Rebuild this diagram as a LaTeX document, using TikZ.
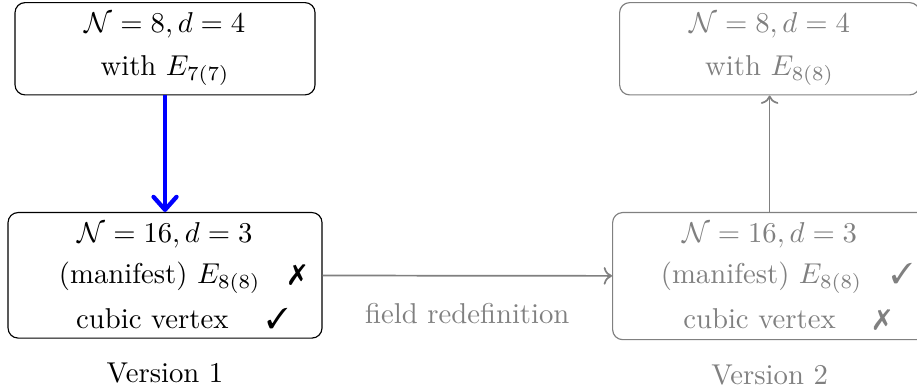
\documentclass[tikz,border=0pt]{standalone}
\usepackage{pifont}
\usetikzlibrary{positioning, arrows.meta}

\newcommand{\cmark}{\ding{51}}
\newcommand{\xmark}{\ding{55}}

\begin{document}
\begin{tikzpicture}[
    theory/.style={draw, rounded corners=3.5pt, align=center,
        minimum width=3.845cm},
    faded/.style={draw=gray, text=gray},
]
    \useasboundingbox (0,0) rectangle (11.23,-4.739);

    \node[theory,
        minimum width=3.674cm,
        anchor=north
    ] (v1top) at (2.021,-0.025)
        {$\mathcal{N}=8, d=4$\\[3pt] with $E_{7(7)}$};
    \node[theory,
        anchor=north
    ] (v1) at (2.021,-2.596)
        {$\mathcal{N}=16, d=3$\\[2.5pt]
        \hspace{12pt}(manifest) $E_{8(8)}$\quad\xmark\\[3.5pt]
        \hspace{12pt}cubic vertex \quad\cmark};

    \node[theory, faded,
        minimum width=3.674cm,
        anchor=north
    ] (v2top) at (9.425,-0.025)
        {$\mathcal{N}=8, d=4$\\[3pt] with $E_{8(8)}$};
    \node[theory, faded,
        anchor=north
    ] (v2) at (9.425,-2.596)
        {$\mathcal{N}=16, d=3$\\[2.5pt]
        \hspace{12pt}(manifest) $E_{8(8)}$\quad\cmark\\[3.5pt]
        \hspace{12pt}cubic vertex \quad\xmark};

    \node[below=5pt of v1] (ver1) {Version 1};
    \node[below=5pt of v2, text=gray] (ver2) {Version 2};

    \draw[-{Straight Barb[length=4.5pt, width=8pt, round]},
        blue, line width=1.5pt] (v1top) -- (v1);
    \draw[->, gray, semithick] (v2) -- (v2top);
    \draw[->, gray, semithick] (v1) -- (v2)
        node[midway, below=6pt]{field redefinition};

\end{tikzpicture}
\end{document}
